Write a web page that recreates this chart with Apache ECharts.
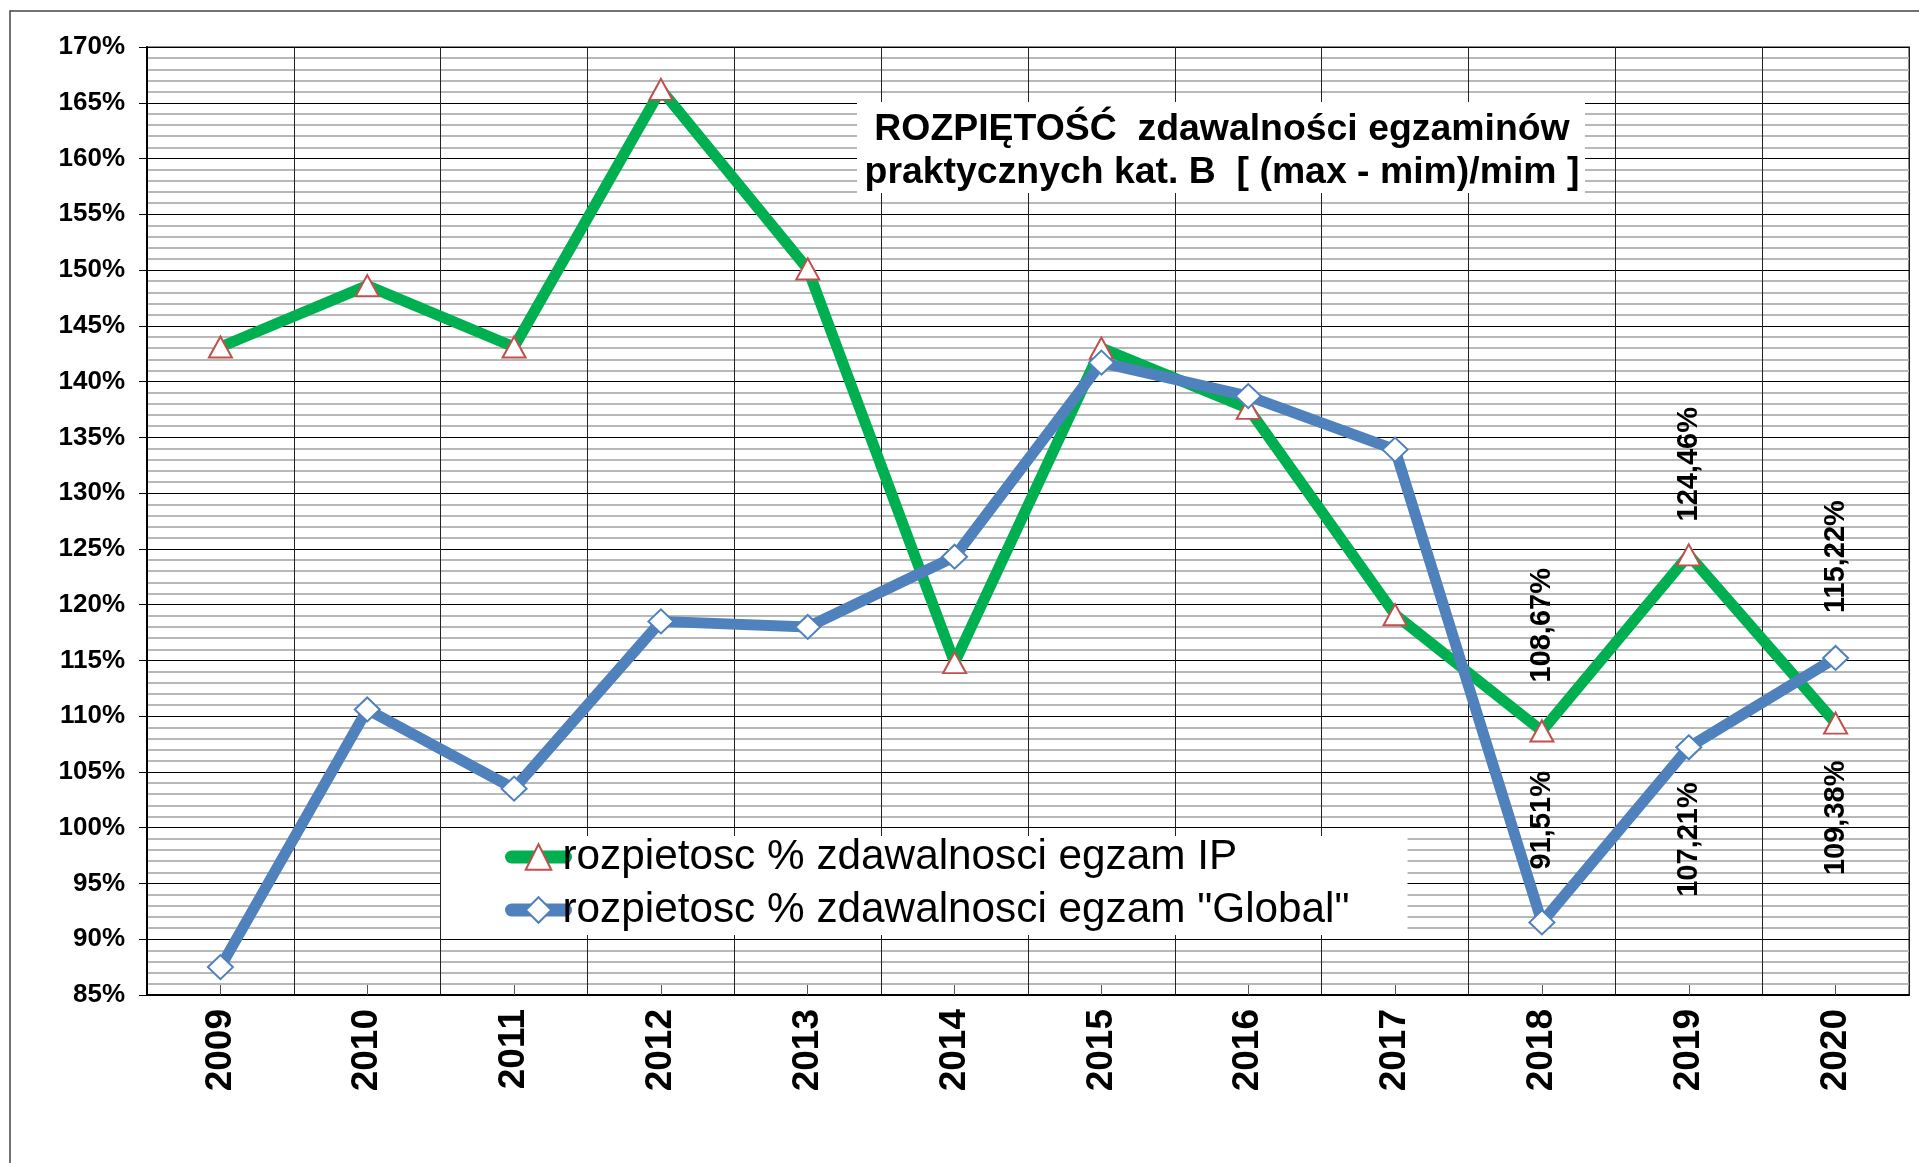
<!DOCTYPE html>
<html>
<head>
<meta charset="utf-8">
<script src="https://cdn.jsdelivr.net/npm/echarts@6/dist/echarts.min.js"></script>
<style>
  html, body { margin: 0; padding: 0; background: #fff; }
  #chart { width: 1919px; height: 1163px; }
</style>
</head>
<body>
<div id="chart"></div>
<script>
// dane
const years = ['2009', '2010', '2011', '2012', '2013', '2014', '2015', '2016', '2017', '2018', '2019', '2020'];
const ipValues = [143.1, 148.6, 143.1, 166.2, 150.1, 114.8, 143.0, 137.6, 119.1, 108.67, 124.46, 109.38];
const globalValues = [87.5, 110.6, 103.5, 118.5, 118.0, 124.3, 141.7, 138.7, 133.9, 91.51, 107.21, 115.22];
const ipName = 'rozpietosc % zdawalnosci egzam IP';
const globalName = 'rozpietosc % zdawalnosci egzam "Global"';
const titleLines = ['ROZPIĘTOŚĆ  zdawalności egzaminów', 'praktycznych kat. B  [ (max - mim)/mim ]'];
const yMin = 85;
const yMax = 170;
const yStep = 5;

const FONT = '"Liberation Sans", Arial, sans-serif';

// etykiety tylko dla ostatnich lat: [pozycja, odstep]
const ipLabels = { 9: ['top', 37], 10: ['top', 22], 11: ['bottom', 26] };
const globalLabels = { 9: ['top', 40], 10: ['bottom', 22], 11: ['top', 32] };

function fmt(v) {
  return v.toFixed(2).replace('.', ',') + '%';
}

function buildData(values, places) {
  return values.map((v, i) => {
    const p = places[i];
    if (!p) return v;
    return {
      value: v,
      label: {
        show: true,
        position: p[0],
        distance: p[1],
        rotate: 90,
        align: p[0] === 'top' ? 'left' : 'right',
        verticalAlign: 'middle',
        formatter: fmt(v),
        color: '#000',
        fontSize: 29,
        fontWeight: 'bold',
        fontFamily: FONT
      }
    };
  });
}

const chart = echarts.init(document.getElementById('chart'));

const option = {
  animation: false,
  backgroundColor: '#fff',
  title: {
    text: titleLines.join('\n'),
    left: 1222,
    top: 108,
    textAlign: 'center',
    padding: 0,
    z: 8,
    textStyle: {
      fontFamily: FONT,
      fontSize: 37.4,
      fontWeight: 'bold',
      lineHeight: 43,
      color: '#000'
    }
  },
  legend: {
    orient: 'vertical',
    left: 441,
    top: 836,
    align: 'left',
    backgroundColor: '#fff',
    padding: [0, 58, 4, 64],
    itemWidth: 54,
    itemHeight: 32,
    itemGap: 11,
    lineStyle: { width: 13, cap: 'round' },
    textStyle: {
      fontFamily: FONT,
      fontSize: 42.3,
      color: '#000',
      padding: [0, 0, 0, -8]
    },
    data: [ipName, globalName]
  },
  grid: {
    left: 147,
    right: 10,
    top: 47,
    bottom: 168,
    show: true,
    borderColor: '#8c8c8c',
    borderWidth: 2
  },
  xAxis: {
    type: 'category',
    data: years,
    axisLine: { lineStyle: { color: '#000', width: 2 } },
    axisTick: { show: true, inside: true, alignWithLabel: true, length: 10, lineStyle: { color: '#555' } },
    splitLine: { show: true, lineStyle: { color: '#222', width: 1 } },
    axisLabel: {
      rotate: 90,
      margin: 14,
      color: '#000',
      fontFamily: FONT,
      fontSize: 37,
      fontWeight: 'bold'
    }
  },
  yAxis: {
    type: 'value',
    min: yMin,
    max: yMax,
    interval: yStep,
    axisLine: { show: true, lineStyle: { color: '#000', width: 2 } },
    axisTick: { show: true, length: 8, lineStyle: { color: '#000' } },
    minorTick: { show: false, splitNumber: 5 },
    splitLine: { show: true, lineStyle: { color: '#000', width: 1 } },
    minorSplitLine: { show: true, lineStyle: { color: '#b8b8b8', width: 2 } },
    axisLabel: {
      margin: 22,
      formatter: '{value}%',
      color: '#000',
      fontFamily: FONT,
      fontSize: 26,
      fontWeight: 'bold'
    }
  },
  graphic: [
    {
      type: 'rect',
      z: -10,
      shape: { x: 10, y: 11, width: 2000, height: 2000 },
      style: { fill: 'none', stroke: '#444', lineWidth: 1.5 }
    },
    {
      // biale tlo pod tytulem
      type: 'rect',
      z: 1,
      shape: { x: 857, y: 102, width: 728, height: 91 },
      style: { fill: '#fff' }
    }
  ],
  series: [
    {
      name: ipName,
      type: 'line',
      data: buildData(ipValues, ipLabels),
      symbol: 'triangle',
      symbolSize: [23, 21],
      lineStyle: { color: '#00b050', width: 11 },
      itemStyle: { color: '#fff', borderColor: '#c0504d', borderWidth: 2 },
      emphasis: { disabled: true }
    },
    {
      name: globalName,
      type: 'line',
      data: buildData(globalValues, globalLabels),
      symbol: 'diamond',
      symbolSize: [25, 24],
      lineStyle: { color: '#4f81bd', width: 11 },
      itemStyle: { color: '#fff', borderColor: '#4f81bd', borderWidth: 2 },
      emphasis: { disabled: true }
    }
  ]
};

chart.setOption(option);
</script>
</body>
</html>
